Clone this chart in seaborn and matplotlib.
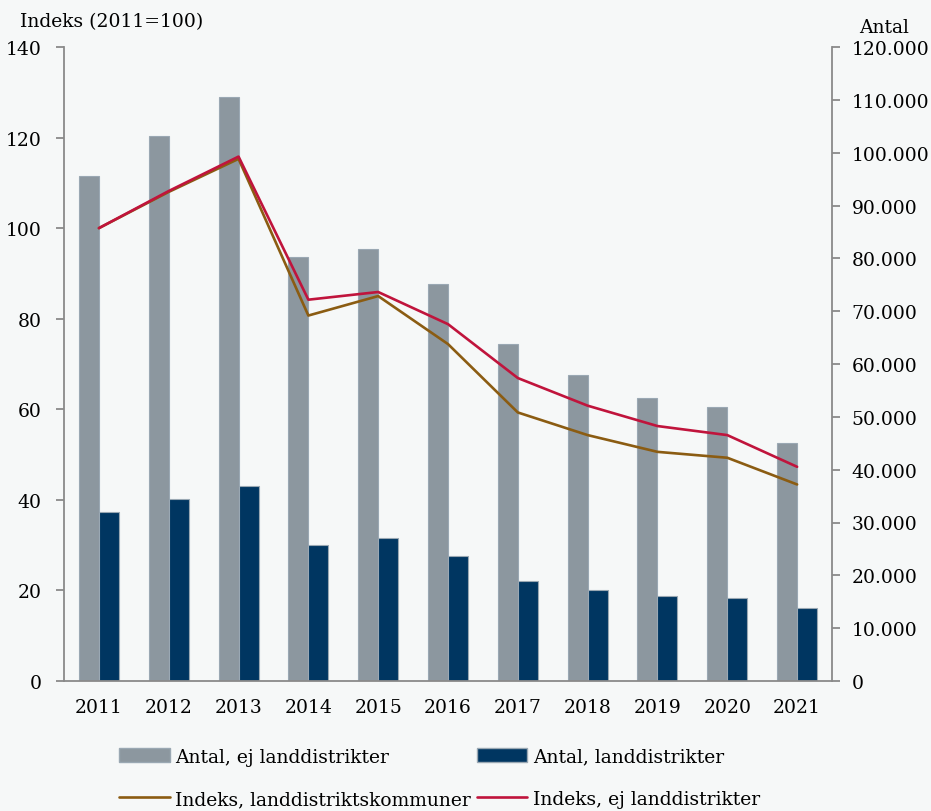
import pandas as pd
import seaborn as sns
import matplotlib.pyplot as plt
from matplotlib.ticker import FuncFormatter
from matplotlib.patches import Patch
from matplotlib.lines import Line2D

years = ['2011', '2012', '2013', '2014', '2015', '2016', '2017', '2018', '2019', '2020', '2021']
antal_ej = [95500, 103200, 110600, 80300, 81800, 75100, 63800, 58000, 53600, 51800, 45000]
antal_land = [32000, 34500, 36900, 25700, 27100, 23600, 18900, 17300, 16100, 15700, 13900]
indeks_land = [100, 108.0, 115.3, 80.7, 85.0, 74.4, 59.3, 54.3, 50.6, 49.3, 43.4]
indeks_ej = [100, 108.2, 115.8, 84.2, 85.9, 78.8, 66.9, 60.8, 56.3, 54.3, 47.3]

grey = '#8c979f'
navy = '#003661'
brown = '#8b5c12'
red = '#c0143c'
bg = '#f6f8f8'

sns.set_theme(style='white')
plt.rcParams['font.family'] = ['DejaVu Serif']
plt.rcParams['font.size'] = 13
plt.rcParams['text.color'] = 'black'
plt.rcParams['xtick.color'] = 'black'
plt.rcParams['ytick.color'] = 'black'

fig = plt.figure(figsize=(9.31, 8.12), dpi=100, facecolor=bg)
ax = fig.add_axes([64 / 931, 1 - 682 / 812, 768 / 931, 634 / 812])
ax2 = ax.twinx()

bars = pd.DataFrame({
    'year': years * 2,
    'antal': antal_ej + antal_land,
    'serie': ['Antal, ej landdistrikter'] * 11 + ['Antal, landdistrikter'] * 11,
})
sns.barplot(data=bars, x='year', y='antal', hue='serie', ax=ax2,
            palette=[grey, navy], width=0.573, saturation=1, legend=False,
            edgecolor='#9aa8b3', linewidth=0.8)

pos = list(range(len(years)))
sns.lineplot(x=pos, y=indeks_land, ax=ax, color=brown, linewidth=1.9)
sns.lineplot(x=pos, y=indeks_ej, ax=ax, color=red, linewidth=1.9)

ax.set_zorder(ax2.get_zorder() + 1)
ax.patch.set_visible(False)
ax2.set_facecolor(bg)

ax.set_ylim(0, 140)
ax.set_yticks(range(0, 141, 20))
ax2.set_ylim(0, 120000)
ax2.set_yticks(range(0, 120001, 10000))
ax2.yaxis.set_major_formatter(FuncFormatter(lambda v, p: f'{int(v):,}'.replace(',', '.')))
ax.set_xlim(-0.5, len(years) - 0.5)
ax2.set_xlim(-0.5, len(years) - 0.5)
ax.set_xticks(pos)
ax.set_xticklabels(years)

for a in (ax, ax2):
    a.set_xlabel('')
    a.set_ylabel('')
    a.spines['top'].set_visible(False)
    for s in ('left', 'right', 'bottom'):
        a.spines[s].set_color('#8a8a8a')
        a.spines[s].set_linewidth(1.3)
ax.spines['right'].set_visible(False)
ax2.spines['left'].set_visible(False)
ax2.spines['bottom'].set_visible(False)

ax.tick_params(axis='y', left=True, length=6, width=1.3, color='#8a8a8a',
               labelcolor='black', labelsize=13.5, pad=10)
ax.tick_params(axis='x', bottom=False, labelcolor='black', labelsize=13.5, pad=6)
ax2.tick_params(axis='y', right=True, length=6, width=1.3, color='#8a8a8a',
                labelcolor='black', labelsize=13.5, pad=8)
ax2.tick_params(axis='x', bottom=False, labelbottom=False)

fig.text(20 / 931, 1 - 22 / 812, 'Indeks (2011=100)', fontsize=13.5, va='center', ha='left')
fig.text(884 / 931, 1 - 28 / 812, 'Antal', fontsize=13.5, va='center', ha='center')

# row-wise order: grey | navy, brown | red
handles = [
    Patch(facecolor=grey, edgecolor='#9aa8b3', label='Antal, ej landdistrikter'),
    Line2D([], [], color=brown, linewidth=1.9, label='Indeks, landdistriktskommuner'),
    Patch(facecolor=navy, edgecolor='#9aa8b3', label='Antal, landdistrikter'),
    Line2D([], [], color=red, linewidth=1.9, label='Indeks, ej landdistrikter'),
]
leg = fig.legend(handles=handles, ncol=2, loc='center', bbox_to_anchor=(0.472, 1 - 779 / 812),
                 frameon=False, fontsize=13.5, handlelength=2.7, handleheight=0.8,
                 handletextpad=0.3, columnspacing=0.3, labelspacing=1.3)
for t in leg.get_texts():
    t.set_color('black')

fig.savefig('out.png', dpi=100, facecolor=bg)
